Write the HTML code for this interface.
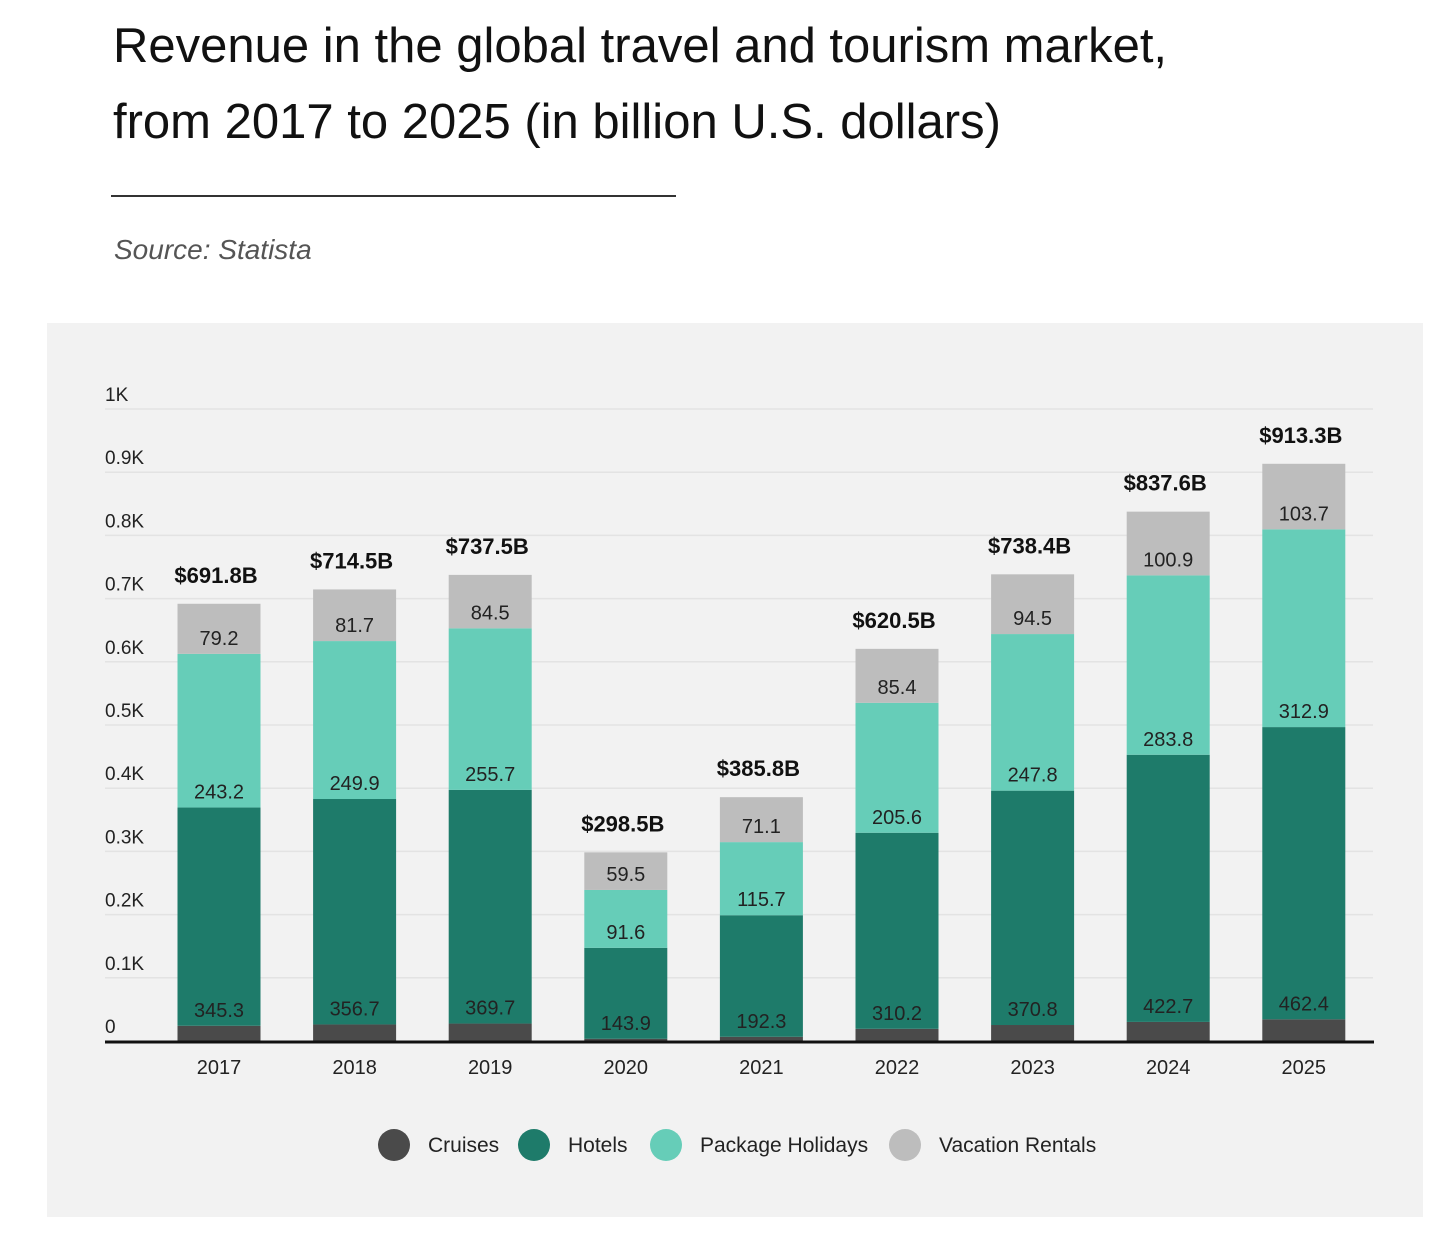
<!DOCTYPE html>
<html><head><meta charset="utf-8"><style>
body{margin:0;width:1456px;height:1245px;background:#fff;font-family:"Liberation Sans",sans-serif;overflow:hidden;position:relative}
#title{position:absolute;left:113px;top:8px;font-size:49px;line-height:76px;color:#111;margin:0;font-weight:normal}
#rule{position:absolute;left:111px;top:195px;width:565px;height:2px;background:#333}
#source{position:absolute;left:114px;top:234px;font-size:28px;font-style:italic;color:#555}
#panel{position:absolute;left:47px;top:323px;width:1376px;height:894px;background:#f2f2f2}
svg{position:absolute;left:0;top:0}
</style></head><body>
<h1 id="title">Revenue in the global travel and tourism market,<br>from 2017 to 2025 (in billion U.S. dollars)</h1>
<div id="rule"></div>
<div id="source">Source: Statista</div>
<div id="panel"></div>
<svg id="chart" width="1456" height="1245"></svg>
<script>
const years=["2017","2018","2019","2020","2021","2022","2023","2024","2025"];
const cruises=[24.1,26.2,27.6,3.5,6.7,19.3,25.3,30.2,34.3];
const hotels=[345.3,356.7,369.7,143.9,192.3,310.2,370.8,422.7,462.4];
const packageHolidays=[243.2,249.9,255.7,91.6,115.7,205.6,247.8,283.8,312.9];
const vacationRentals=[79.2,81.7,84.5,59.5,71.1,85.4,94.5,100.9,103.7];
const totals=["$691.8B","$714.5B","$737.5B","$298.5B","$385.8B","$620.5B","$738.4B","$837.6B","$913.3B"];
const tickVals=[0,100,200,300,400,500,600,700,800,900,1000];
const tickLabels=["0","0.1K","0.2K","0.3K","0.4K","0.5K","0.6K","0.7K","0.8K","0.9K","1K"];
const seriesNames=["Cruises","Hotels","Package Holidays","Vacation Rentals"];
const colors=["#4a4a4a","#1e7b6a","#66cdb8","#bdbdbd"];
const NS="http://www.w3.org/2000/svg";
const svg=document.getElementById('chart');
const y=v=>1041-v*0.632;
const x=i=>219+i*135.6;
const bw=83;
function mk(t,a,txt){const e=document.createElementNS(NS,t);for(const k in a)e.setAttribute(k,a[k]);if(txt!==undefined)e.textContent=txt;svg.appendChild(e);return e;}
tickVals.forEach((v,i)=>{
 if(v>0){const g=mk('line',{x1:105,x2:1373,y1:y(v),y2:y(v),stroke:'#e3e3e3','stroke-width':1.5});
 
 }
 const t=mk('text',{x:105,y:y(v)-8,'font-size':19,fill:'#222'},tickLabels[i]);
 
 
});
const series=[cruises,hotels,packageHolidays,vacationRentals];
years.forEach((yr,i)=>{
 let base=0;
 series.forEach((s,k)=>{
  const v=s[i];
  const r=mk('rect',{x:x(i)-bw/2,y:y(base+v),width:bw,height:v*0.632,fill:colors[k]});
  
  
  if(k>0){const t=mk('text',{x:x(i),y:y(base)-9,'font-size':20,fill:'#222','text-anchor':'middle'},v.toFixed(1));
   
   }
  base+=v;
 });
 const tt=mk('text',{x:x(i)-3,y:y(base)-21,'font-size':22,'font-weight':'bold',fill:'#111','text-anchor':'middle'},totals[i]);
 
 
 const xl=mk('text',{x:x(i),y:1074,'font-size':20,fill:'#222','text-anchor':'middle'},yr);
 
 
});
const ax=mk('line',{x1:105,x2:1374,y1:1042,y2:1042,stroke:'#111','stroke-width':3});


const lx=[394,534,666,905];
seriesNames.forEach((n,k)=>{
 const c=mk('circle',{cx:lx[k],cy:1145,r:16,fill:colors[k]});
 
 
 const t=mk('text',{x:lx[k]+34,y:1152,'font-size':21,fill:'#222'},n);
 
 
});
</script>
</body></html>
